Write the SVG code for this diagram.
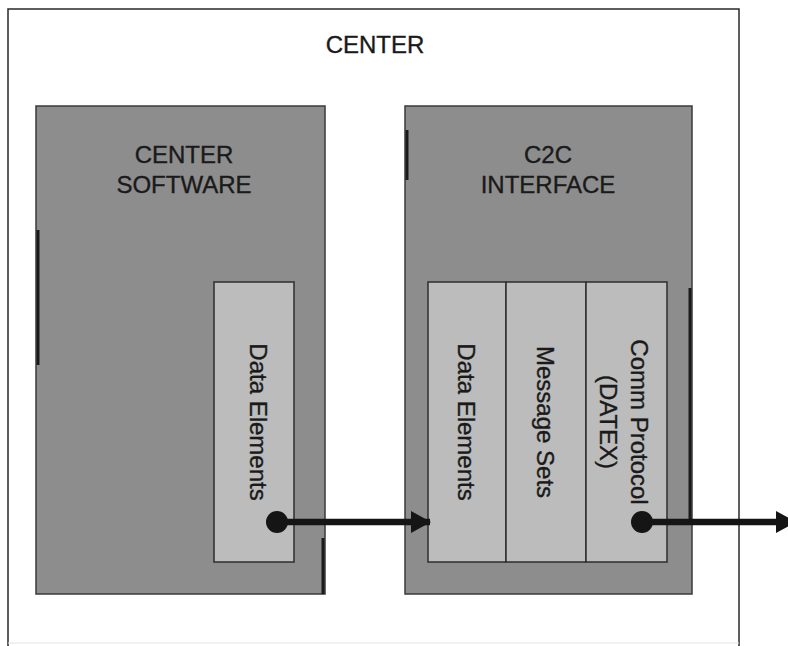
<svg xmlns="http://www.w3.org/2000/svg" width="788" height="646" viewBox="0 0 788 646">
<style>
.lbl{font-family:"Liberation Sans",Arial,sans-serif;font-size:24px;fill:#1a1a1a;stroke:#1a1a1a;stroke-width:0.35;text-anchor:middle}
.outer{fill:#8d8d8d;stroke:#3a3a3a;stroke-width:1.5}
.inner{fill:#bcbcbc;stroke:#2e2e2e;stroke-width:1.5}
.conn{stroke:#151515;stroke-width:6.5;fill:none}
.edge{stroke:#1a1a1a;stroke-width:3}
</style>
<defs>
<marker id="ah" viewBox="0 0 20 22" refX="19" refY="11" markerWidth="20" markerHeight="22" markerUnits="userSpaceOnUse" orient="auto">
<path d="M0,0 L20,11 L0,22 Z" fill="#151515"/>
</marker>
</defs>
<rect width="788" height="646" fill="#ffffff"/>
<g id="center">
<path d="M8,646 L8,9 L739,9 L739,646" fill="none" stroke="#2a2a2a" stroke-width="1.5"/>
<line x1="8" y1="643" x2="739" y2="643" stroke="#e2e2e2" stroke-width="1"/>
<text class="lbl" x="375" y="53">CENTER</text>
</g>
<g id="center-software">
<rect class="outer" x="36" y="106" width="289" height="488"/>
<line class="edge" x1="38" y1="230" x2="38" y2="365"/>
<line class="edge" x1="323" y1="538" x2="323" y2="594"/>
<text class="lbl" x="184" y="163">CENTER</text>
<text class="lbl" x="184" y="193">SOFTWARE</text>
</g>
<g id="cs-data-elements">
<rect class="inner" x="214" y="282" width="80" height="280"/>
<text class="lbl" transform="translate(250,422) rotate(90)">Data Elements</text>
</g>
<g id="c2c-interface">
<rect class="outer" x="405" y="106" width="287" height="488"/>
<line class="edge" x1="407" y1="130" x2="407" y2="180"/>
<line class="edge" x1="690" y1="288" x2="690" y2="520"/>
<text class="lbl" x="548" y="163">C2C</text>
<text class="lbl" x="548" y="193">INTERFACE</text>
</g>
<g id="c2c-data-elements">
<rect class="inner" x="428" y="282" width="78" height="280"/>
<text class="lbl" transform="translate(458,422) rotate(90)">Data Elements</text>
</g>
<g id="message-sets">
<rect class="inner" x="506" y="282" width="80" height="280"/>
<text class="lbl" transform="translate(537,422) rotate(90)">Message Sets</text>
</g>
<g id="comm-protocol">
<rect class="inner" x="586" y="282" width="81" height="280"/>
<text class="lbl" transform="translate(631,422) rotate(90)">Comm Protocol</text>
<text class="lbl" transform="translate(600,422) rotate(90)">(DATEX)</text>
</g>
<g id="connectors">
<circle cx="277" cy="522" r="11" fill="#151515"/>
<line class="conn" x1="277" y1="522" x2="430" y2="522" marker-end="url(#ah)"/>
<circle cx="642" cy="522" r="11" fill="#151515"/>
<line class="conn" x1="642" y1="522" x2="795" y2="522" marker-end="url(#ah)"/>
</g>
</svg>
